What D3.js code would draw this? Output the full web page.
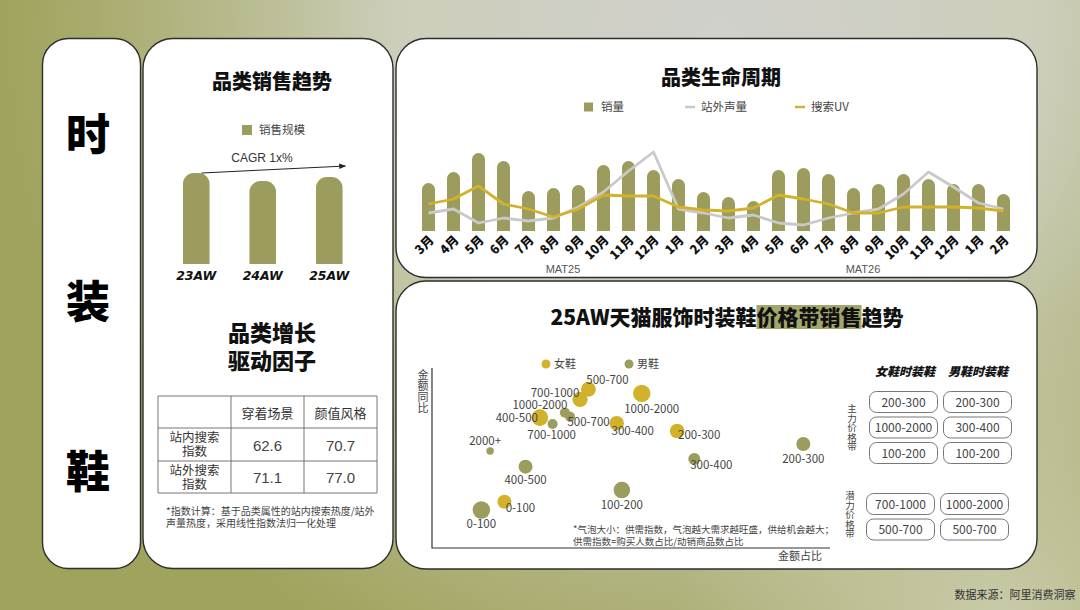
<!DOCTYPE html>
<html>
<head>
<meta charset="utf-8">
<script src="https://cdn.jsdelivr.net/npm/d3@7"></script>
<style>
  body { margin: 0; background: #a0a35c; }
  svg { display: block; font-family: "Noto Sans CJK SC", "Noto Sans", sans-serif; }
</style>
</head>
<body>
<svg id="chart" width="1080" height="610"></svg>
<script>
// ---- data ----
const months = ['3月','4月','5月','6月','7月','8月','9月','10月','11月','12月','1月','2月',
                '3月','4月','5月','6月','7月','8月','9月','10月','11月','12月','1月','2月'];
const periods = ['MAT25', 'MAT26'];
const salesVolume = [48, 59, 78, 70, 40, 43, 46, 66, 70, 61, 52, 39,
                     34, 30, 61, 63, 57, 43, 47, 57, 52, 47, 47, 37];
const offsiteBuzz = [18, 22, 8, 13, 10, 13, 24, 39, 60, 79, 22, 18,
                     13, 16, 8, 6, 13, 18, 22, 37, 59, 44, 28, 22];
const searchUV = [27, 32, 45, 27, 22, 14, 22, 36, 35, 35, 24, 21,
                  20, 23, 36, 32, 27, 18, 18, 24, 24, 24, 23, 20];

const seasons = ['23AW', '24AW', '25AW'];
const salesScale = [91, 83, 87];

const driverCols = ['穿着场景', '颜值风格'];
const driverRows = [['站内搜索', '指数'], ['站外搜索', '指数']];
const driverValues = [['62.6', '70.7'], ['71.1', '77.0']];

const womenBands  = ['500-700', '700-1000', '1000-2000', '400-500', '300-400', '200-300', '0-100'];
const womenShare  = [39.3, 37.2, 52.7, 27.1, 46.4, 61.6, 18.2];
const womenGrowth = [88.2, 82.6, 85.9, 72.4, 69.3, 65.0, 25.7];
const womenIndex  = [56, 59, 76, 69, 53, 53, 49];

const menBands  = ['1000-2000', '500-700', '700-1000', '2000+', '400-500', '100-200', '0-100', '300-400', '200-300'];
const menShare  = [33.4, 34.7, 30.3, 14.6, 23.5, 47.7, 12.4, 65.9, 93.3];
const menGrowth = [75.2, 72.9, 68.9, 53.9, 45.2, 32.2, 21.1, 49.4, 57.8];
const menIndex  = [25, 25, 25, 14, 49, 69, 76, 36, 49];

const mainWomen = ['200-300', '1000-2000', '100-200'];
const mainMen = ['200-300', '300-400', '100-200'];
const potentialWomen = ['700-1000', '500-700'];
const potentialMen = ['1000-2000', '500-700'];

// ---- colours ----
const OLIVE = '#9b9c5d';
const YELLOW = '#d3b22b';
const GREY = '#c9c9c9';
const HEAVY = '"Noto Sans CJK SC", sans-serif';

const svg = d3.select('#chart');
const defs = svg.append('defs');

// background
const glow = defs.append('radialGradient').attr('id', 'glow')
  .attr('gradientUnits', 'userSpaceOnUse').attr('cx', 720).attr('cy', 30).attr('r', 720);
glow.append('stop').attr('offset', 0).attr('stop-color', '#d0d0cc');
glow.append('stop').attr('offset', 0.45).attr('stop-color', '#cdceba');
glow.append('stop').attr('offset', 1).attr('stop-color', '#c4c5a4').attr('stop-opacity', 0);
const glow2 = defs.append('radialGradient').attr('id', 'glow2')
  .attr('gradientUnits', 'userSpaceOnUse').attr('cx', 1000).attr('cy', 640).attr('r', 330);
glow2.append('stop').attr('offset', 0).attr('stop-color', '#cfd0b4').attr('stop-opacity', 0.9);
glow2.append('stop').attr('offset', 1).attr('stop-color', '#cfd0b4').attr('stop-opacity', 0);
svg.append('rect').attr('width', 1080).attr('height', 610).attr('fill', '#a0a35c');
svg.append('rect').attr('width', 1080).attr('height', 610).attr('fill', 'url(#glow)');
svg.append('rect').attr('width', 1080).attr('height', 610).attr('fill', 'url(#glow2)');

defs.append('marker').attr('id', 'arrow').attr('viewBox', '0 0 10 10')
  .attr('refX', 9).attr('refY', 5).attr('markerWidth', 7).attr('markerHeight', 7).attr('orient', 'auto')
  .append('path').attr('d', 'M0,1L10,5L0,9Z').attr('fill', '#222');

function panel(x, y, w, h, r) {
  svg.append('rect').attr('x', x).attr('y', y).attr('width', w).attr('height', h)
    .attr('rx', r).attr('fill', '#fff').attr('stroke', '#2e2e2e').attr('stroke-width', 1.4);
}
panel(42.5, 38.5, 98, 530, 26);
panel(143, 38.5, 250, 530, 30);
panel(396, 38.5, 641, 239, 30);
panel(396, 281, 641, 288, 30);

function text(x, y, str, size, opts = {}) {
  return svg.append('text').attr('x', x).attr('y', y).text(str)
    .attr('font-size', size)
    .attr('text-anchor', opts.anchor || 'middle')
    .attr('font-weight', opts.weight || 400)
    .attr('font-style', opts.style || 'normal')
    .attr('font-family', opts.family || null)
    .attr('fill', opts.fill || '#333');
}

// vertical text, top-to-bottom, starting at y
function vtext(x, y, str, size) {
  return svg.append('text').attr('x', x).attr('y', y).text(str)
    .attr('font-size', size).attr('fill', '#444')
    .style('writing-mode', 'vertical-rl').style('text-orientation', 'upright')
    .attr('text-anchor', 'start');
}

function roundTop(x, y, w, h, r) {
  r = Math.min(r, w / 2, h);
  return `M${x},${y + h}V${y + r}A${r},${r} 0 0 1 ${x + r},${y}H${x + w - r}A${r},${r} 0 0 1 ${x + w},${y + r}V${y + h}Z`;
}

// ---- left column ----
['时', '装', '鞋'].forEach((c, i) => {
  text(88, [151, 318, 488][i], c, 44, { weight: 900, fill: '#000', family: HEAVY });
});

// ---- category sales trend ----
text(272, 89, '品类销售趋势', 20, { weight: 900, fill: '#111', family: HEAVY });
svg.append('rect').attr('x', 242).attr('y', 125).attr('width', 10).attr('height', 10).attr('fill', OLIVE);
text(259, 134, '销售规模', 11.5, { anchor: 'start', fill: '#444' });

const xs = d3.scaleBand().domain(seasons).range([163, 362.5]).paddingInner(0.6).paddingOuter(0.3);
const ys = d3.scaleLinear().domain([0, 100]).range([264, 164]);
svg.append('g').selectAll('path').data(seasons).join('path')
  .attr('d', (d, i) => roundTop(xs(d), ys(salesScale[i]), xs.bandwidth(), ys(0) - ys(salesScale[i]), 11))
  .attr('fill', OLIVE);
svg.append('g').selectAll('text').data(seasons).join('text')
  .attr('x', d => xs(d) + xs.bandwidth() / 2).attr('y', 280)
  .attr('text-anchor', 'middle').attr('font-size', 12.5).attr('font-weight', 700)
  .attr('font-style', 'italic').attr('font-family', '"DejaVu Sans", sans-serif')
  .attr('fill', '#111').text(d => d);
svg.append('line')
  .attr('x1', xs(seasons[0]) + xs.bandwidth() * 0.7).attr('y1', ys(salesScale[0]))
  .attr('x2', xs(seasons[2]) + xs.bandwidth() + 3).attr('y2', ys(salesScale[0]) - 7)
  .attr('stroke', '#222').attr('stroke-width', 1).attr('marker-end', 'url(#arrow)');
text(262, 162, 'CAGR 1x%', 12, { family: '"Liberation Sans", sans-serif', fill: '#333' });

// ---- growth driver table ----
text(272, 341, '品类增长', 22, { weight: 900, fill: '#111', family: HEAVY });
text(272, 369, '驱动因子', 22, { weight: 900, fill: '#111', family: HEAVY });
const colX = [158, 231, 304, 377];
const rowY = [396, 428, 461, 493];
const tbl = svg.append('g').attr('stroke', '#666').attr('stroke-width', 0.9);
colX.forEach(x => tbl.append('line').attr('x1', x).attr('x2', x).attr('y1', rowY[0]).attr('y2', rowY[3]));
rowY.forEach(y => tbl.append('line').attr('x1', colX[0]).attr('x2', colX[3]).attr('y1', y).attr('y2', y));
driverCols.forEach((c, j) => text((colX[j + 1] + colX[j + 2]) / 2, 418, c, 13, { fill: '#333' }));
driverRows.forEach((r, i) => {
  const cy = (rowY[i + 1] + rowY[i + 2]) / 2;
  const lx = (colX[0] + colX[1]) / 2;
  const t = text(lx, cy - 2.5, null, 12.5, { fill: '#333' });
  t.append('tspan').attr('x', lx).text(r[0]);
  t.append('tspan').attr('x', lx).attr('dy', 14).text(r[1]);
  driverValues[i].forEach((v, j) => text((colX[j + 1] + colX[j + 2]) / 2, cy + 6, v, 15, { fill: '#444', family: '"Liberation Sans", sans-serif' }));
});
const foot = text(166, 515, null, 10, { anchor: 'start', fill: '#444' });
foot.append('tspan').attr('x', 166).text('*指数计算：基于品类属性的站内搜索热度/站外');
foot.append('tspan').attr('x', 166).attr('dy', 12).text('声量热度，采用线性指数法归一化处理');

// ---- lifecycle ----
text(721, 85, '品类生命周期', 20, { weight: 900, fill: '#111', family: HEAVY });
svg.append('rect').attr('x', 584).attr('y', 102.5).attr('width', 9).attr('height', 9).attr('fill', OLIVE);
text(601, 111, '销量', 11.5, { anchor: 'start', fill: '#444' });
svg.append('line').attr('x1', 685).attr('x2', 695).attr('y1', 107).attr('y2', 107).attr('stroke', GREY).attr('stroke-width', 2.5);
text(701, 111, '站外声量', 11.5, { anchor: 'start', fill: '#444' });
svg.append('line').attr('x1', 795).attr('x2', 805).attr('y1', 107).attr('y2', 107).attr('stroke', YELLOW).attr('stroke-width', 2.5);
text(811, 111, '搜索UV', 11.5, { anchor: 'start', fill: '#444' });

const idx = d3.range(months.length);
const xl = d3.scaleBand().domain(idx).range([416, 1016]).paddingInner(0.48).paddingOuter(0.24);
const yl = d3.scaleLinear().domain([0, 100]).range([231, 131]);
const cx = i => xl(i) + xl.bandwidth() / 2;

svg.append('g').selectAll('path').data(idx).join('path')
  .attr('d', i => roundTop(xl(i), yl(salesVolume[i]), xl.bandwidth(), yl(0) - yl(salesVolume[i]), 6.5))
  .attr('fill', OLIVE);

const line = vals => d3.line().x(i => cx(i)).y(i => yl(vals[i]))(idx);
svg.append('path').attr('d', line(offsiteBuzz)).attr('fill', 'none')
  .attr('stroke', GREY).attr('stroke-width', 2.8).attr('stroke-linejoin', 'round');
svg.append('path').attr('d', line(searchUV)).attr('fill', 'none')
  .attr('stroke', YELLOW).attr('stroke-width', 2.8).attr('stroke-linejoin', 'round');

svg.append('g').selectAll('text').data(idx).join('text')
  .attr('transform', i => `translate(${cx(i) + 6},${241}) rotate(-45)`)
  .attr('text-anchor', 'end').attr('font-size', 12.5).attr('font-weight', 900)
  .attr('font-family', HEAVY).attr('fill', '#111').text(i => months[i]);
periods.forEach((p, k) => {
  const mid = (cx(k * 12 + 5) + cx(k * 12 + 6)) / 2;
  text(mid - 3, 273, p, 11, { family: '"Liberation Sans", sans-serif', fill: '#555' });
});

// ---- price band bubbles ----
const title = text(727, 325, '25AW天猫服饰时装鞋价格带销售趋势', 21, { weight: 900, fill: '#111', family: HEAVY });
const tn = title.node();
const hx0 = tn.getStartPositionOfChar(11).x;
const hx1 = tn.getEndPositionOfChar(15).x;
svg.insert('rect', () => tn).attr('x', hx0).attr('y', 305).attr('width', hx1 - hx0).attr('height', 24).attr('fill', '#a3a66a');

svg.append('circle').attr('cx', 546).attr('cy', 364).attr('r', 4.5).attr('fill', YELLOW);
text(554, 368, '女鞋', 11, { anchor: 'start', fill: '#444' });
svg.append('circle').attr('cx', 629).attr('cy', 364).attr('r', 4.5).attr('fill', OLIVE);
text(637, 368, '男鞋', 11, { anchor: 'start', fill: '#444' });

const xb = d3.scaleLinear().domain([0, 100]).range([432, 830]);
const yb = d3.scaleLinear().domain([0, 100]).range([548, 368]);
const rb = d3.scaleSqrt().domain([0, 100]).range([0, 10]);
svg.append('path').attr('d', `M${xb(0)},${yb(100)}V${yb(0)}H${xb(100)}`)
  .attr('fill', 'none').attr('stroke', '#333').attr('stroke-width', 1.2);
vtext(423, 369, '金额同比', 11);
text(800, 560, '金额占比', 11, { fill: '#444' });

// label offsets: [dx, dy]
const womenLabelOff = [[19, -5], [-25, -2], [10, 20], [-23, 4], [16, 12], [22, 8], [16, 10]];
const menLabelOff = [[-25, -4], [18.5, 9], [-1, 15], [-5, -6], [0, 17], [0, 19], [0, 18], [17, 10], [0, 19]];

function bubbles(bands, share, growth, index, color, offs) {
  const g = svg.append('g');
  g.selectAll('circle').data(bands).join('circle')
    .attr('cx', (d, i) => xb(share[i])).attr('cy', (d, i) => yb(growth[i]))
    .attr('r', (d, i) => rb(index[i])).attr('fill', color);
  return (lg) => lg.selectAll(null).data(bands).join('text')
    .attr('x', (d, i) => xb(share[i]) + offs[i][0]).attr('y', (d, i) => yb(growth[i]) + offs[i][1])
    .attr('text-anchor', 'middle').attr('font-size', 11.5).attr('fill', '#444').text(d => d);
}
const wl = bubbles(womenBands, womenShare, womenGrowth, womenIndex, YELLOW, womenLabelOff);
const ml = bubbles(menBands, menShare, menGrowth, menIndex, OLIVE, menLabelOff);
const labels = svg.append('g');
wl(labels.append('g'));
ml(labels.append('g'));

const note = text(573, 533, null, 9.5, { anchor: 'start', fill: '#444' });
note.append('tspan').attr('x', 573).text('*气泡大小：供需指数，气泡越大需求越旺盛，供给机会越大；');
note.append('tspan').attr('x', 573).attr('dy', 11.5).text('供需指数=购买人数占比/动销商品数占比');

// ---- price band boxes ----
text(905, 376, '女鞋时装鞋', 12, { weight: 900, style: 'italic', fill: '#111', family: HEAVY });
text(978, 376, '男鞋时装鞋', 12, { weight: 900, style: 'italic', fill: '#111', family: HEAVY });

function boxes(list, x, y0, step) {
  list.forEach((b, i) => {
    const y = y0 + i * step;
    svg.append('rect').attr('x', x).attr('y', y).attr('width', 68).attr('height', 21)
      .attr('rx', 7).attr('fill', '#fff').attr('stroke', '#777').attr('stroke-width', 1);
    text(x + 34, y + 15, b, 12, { fill: '#444' });
  });
}
boxes(mainWomen, 869.5, 391.5, 25.5);
boxes(mainMen, 943.5, 391.5, 25.5);
boxes(potentialWomen, 866.5, 493.5, 25.5);
boxes(potentialMen, 940.5, 493.5, 25.5);
vtext(852, 404, '主力价格带', 9.5);
vtext(850, 491, '潜力价格带', 9.5);

text(1015, 599, '数据来源：阿里消费洞察', 11, { fill: '#333' });
</script>
</body>
</html>
